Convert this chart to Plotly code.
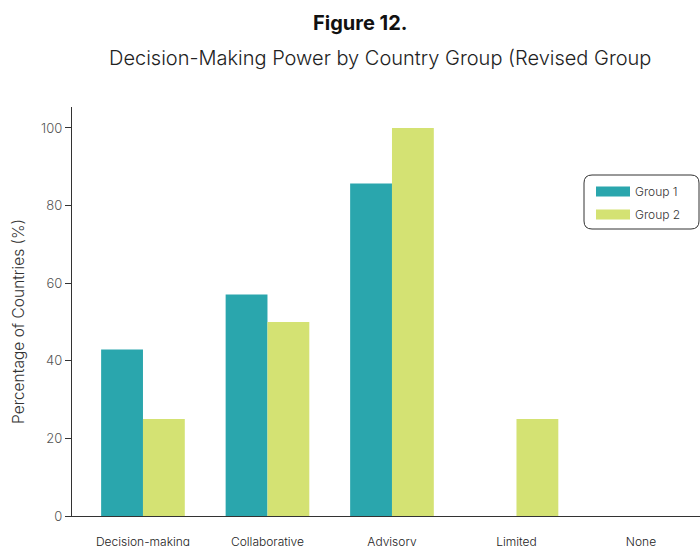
import plotly.graph_objects as go

categories = ["Decision-making", "Collaborative", "Advisory", "Limited", "None"]
group1 = [42.9, 57.1, 85.7, 0, 0]
group2 = [25.0, 50.0, 100.0, 25.0, 0]
series_names = ["Group 1", "Group 2"]
colors = ["#2aa6ad", "#d4e273"]
yticks = [0, 20, 40, 60, 80, 100]

W, H = 700, 546
PL, PT, PB = 72, 107, 516          # plot area in window pixels
L, T, B, R = PL, PT, H - PB, 0
pw = W - L - R
ph = H - T - B

def px(x):
    return (x - PL) / pw

def py(y):
    return (PB - y) / ph

FONT = "Inter"

fig = go.Figure()
for name, vals, c in zip(series_names, [group1, group2], colors):
    fig.add_trace(go.Bar(x=categories, y=vals, name=name, marker_color=c,
                         marker_line_width=0, showlegend=False, legendgroup=name))
    fig.add_trace(go.Scatter(x=[None], y=[None], mode="lines", name=name,
                             legendgroup=name, line=dict(color=c, width=11)))

fig.update_layout(
    width=W, height=H,
    margin=dict(l=L, r=R, t=T, b=B, autoexpand=False),
    plot_bgcolor="white", paper_bgcolor="white",
    barmode="group", bargap=0.328, bargroupgap=0,
    font=dict(family=FONT, color="#333333", size=13, weight=300),
    xaxis=dict(range=[-0.570, 4.474], showline=True, linecolor="#333333",
               linewidth=1.3, ticks="", showgrid=False, zeroline=False,
               tickfont=dict(size=12, color="#222222", weight=300),
               ticklabelstandoff=14),
    yaxis=dict(range=[0, 105.4], tickvals=yticks, showline=True,
               linecolor="#333333", linewidth=1.3, ticks="outside", ticklen=6,
               tickcolor="#333333", showgrid=False, zeroline=False,
               tickfont=dict(size=13, color="#555555", weight=300)),
    legend=dict(x=px(591), y=py(177), xanchor="left", yanchor="top",
                bgcolor="rgba(0,0,0,0)", borderwidth=0,
                font=dict(size=12, color="#333333", weight=300),
                itemwidth=34, traceorder="grouped", tracegroupgap=4),
    showlegend=True,
)

# Rounded legend frame
x0, x1, y0, y1 = px(584), px(699), py(229), py(175)
rx, ry = 8 / pw, 8 / ph
path = (f"M{x0+rx},{y1} L{x1-rx},{y1} Q{x1},{y1} {x1},{y1-ry} "
        f"L{x1},{y0+ry} Q{x1},{y0} {x1-rx},{y0} L{x0+rx},{y0} "
        f"Q{x0},{y0} {x0},{y0+ry} L{x0},{y1-ry} Q{x0},{y1} {x0+rx},{y1} Z")
fig.add_shape(type="path", path=path, xref="paper", yref="paper",
              line=dict(color="#333333", width=1), fillcolor="rgba(0,0,0,0)")

fig.add_annotation(text="<b>Figure 12.</b>", x=px(360), y=py(23), xref="paper",
                   yref="paper", showarrow=False, xanchor="center", yanchor="middle",
                   font=dict(size=20, color="#111111", family=FONT, weight=700))
fig.add_annotation(text="Decision-Making Power by Country Group (Revised Group",
                   x=px(380), y=py(58), xref="paper", yref="paper", showarrow=False,
                   xanchor="center", yanchor="middle",
                   font=dict(size=20, color="#222222", family=FONT, weight=300))
fig.add_annotation(text="Percentage of Countries (%)", x=px(18), y=py(322),
                   xref="paper", yref="paper", showarrow=False, textangle=-90,
                   xanchor="center", yanchor="middle",
                   font=dict(size=15.5, color="#333333", family=FONT, weight=300))

fig.write_html("out.html",
               config={"displayModeBar": False},
               post_script="document.body.style.margin='0';"
                           "document.documentElement.style.overflow='hidden';"
                           "document.body.style.overflow='hidden';")
